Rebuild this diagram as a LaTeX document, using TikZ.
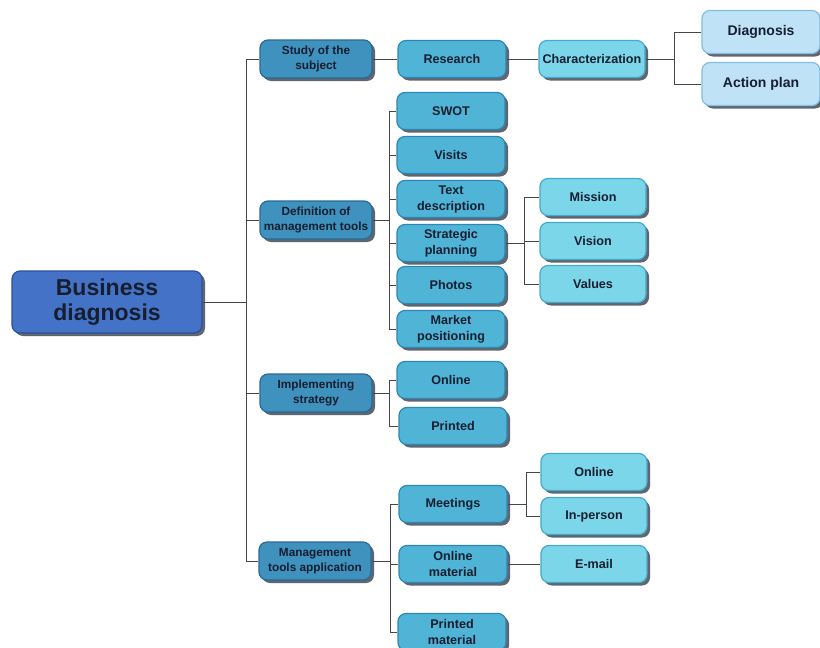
\documentclass[tikz,border=0pt]{standalone}
\usepackage{fontspec}
\setmainfont{Liberation Sans}
\usetikzlibrary{shadows}
\definecolor{c0}{RGB}{68,114,198}
\definecolor{b0}{RGB}{40,80,160}
\definecolor{c1}{RGB}{64,146,190}
\definecolor{b1}{RGB}{40,105,150}
\definecolor{c2}{RGB}{80,180,215}
\definecolor{b2}{RGB}{45,135,180}
\definecolor{c3}{RGB}{122,214,232}
\definecolor{b3}{RGB}{70,170,205}
\definecolor{c4}{RGB}{192,226,246}
\definecolor{b4}{RGB}{130,190,225}
\definecolor{txt}{RGB}{22,30,48}
\definecolor{shd}{RGB}{95,102,112}
\definecolor{edgec}{RGB}{70,70,70}
\tikzset{
  box/.style={rounded corners=8pt, draw, line width=1.2pt, align=center, font=\bfseries, text=txt, inner sep=1pt,
    drop shadow={shadow xshift=3pt, shadow yshift=-3pt, fill=shd, opacity=1}},
  lv0/.style={box, fill=c0, draw=b0, minimum width=190pt, minimum height=62pt, font=\bfseries\fontsize{23}{25}\selectfont},
  lv1/.style={box, fill=c1, draw=b1, minimum width=112pt, minimum height=38pt, font=\bfseries\fontsize{11.8}{15.5}\selectfont},
  lv2/.style={box, fill=c2, draw=b2, minimum width=108pt, minimum height=37pt, font=\bfseries\fontsize{12.6}{16}\selectfont},
  lv3/.style={box, fill=c3, draw=b3, minimum width=106pt, minimum height=37pt, font=\bfseries\fontsize{12.6}{16}\selectfont},
  lv4/.style={box, fill=c4, draw=b4, minimum width=118pt, minimum height=43pt, font=\bfseries\fontsize{14}{16}\selectfont},
  edge/.style={draw=edgec, line width=0.9pt},
}
\begin{document}
\begin{tikzpicture}[x=1pt,y=-1pt]
\useasboundingbox[fill=white] (0,0) rectangle (820,648);
% nodes
\node[lv0] (bd) at (107,302) {Business\\diagnosis};
\node[lv1] (s1) at (316,59) {Study of the\\subject};
\node[lv1] (d1) at (316,220) {Definition of\\management tools};
\node[lv1] (i1) at (316,393) {Implementing\\strategy};
\node[lv1] (m1) at (315,561) {Management\\tools application};

\node[lv2] (res) at (452,59) {Research};
\node[lv2] (swot) at (451,111) {SWOT};
\node[lv2] (vis) at (451,155) {Visits};
\node[lv2] (txd) at (451,199) {Text\\description};
\node[lv2] (stp) at (451,243) {Strategic\\planning};
\node[lv2] (pho) at (451,285) {Photos};
\node[lv2] (mkt) at (451,329) {Market\\positioning};
\node[lv2] (onl) at (451,380) {Online};
\node[lv2] (prt) at (453,426) {Printed};
\node[lv2] (mee) at (453,504) {Meetings};
\node[lv2] (onm) at (453,564) {Online\\material};
\node[lv2] (prm) at (452,632) {Printed\\material};

\node[lv3] (cha) at (592,59) {Characterization};
\node[lv3] (mis) at (593,197) {Mission};
\node[lv3] (vsn) at (593,241) {Vision};
\node[lv3] (val) at (593,284) {Values};
\node[lv3] (on2) at (594,472) {Online};
\node[lv3] (inp) at (594,516) {In-person};
\node[lv3] (eml) at (594,564) {E-mail};

\node[lv4] (dia) at (761,32) {Diagnosis};
\node[lv4] (act) at (761,84) {Action plan};

% bus coordinates
\coordinate (t0) at (246,302);
\coordinate (t1) at (389,220);
\coordinate (t2) at (389,393);
\coordinate (t3) at (390,561);
\coordinate (t4) at (524,243);
\coordinate (t5) at (526,504);
\coordinate (t6) at (674,59);

% connectors
\draw[edge] (bd.east) -- (t0);
\foreach \n in {s1,d1,i1,m1} \draw[edge] (t0) |- (\n.west);
\draw[edge] (d1.east) -- (t1);
\foreach \n in {swot,vis,txd,stp,pho,mkt} \draw[edge] (t1) |- (\n.west);
\draw[edge] (i1.east) -- (t2);
\foreach \n in {onl,prt} \draw[edge] (t2) |- (\n.west);
\draw[edge] (m1.east) -- (t3);
\foreach \n in {mee,onm,prm} \draw[edge] (t3) |- (\n.west);
\draw[edge] (stp.east) -- (t4);
\foreach \n in {mis,vsn,val} \draw[edge] (t4) |- (\n.west);
\draw[edge] (mee.east) -- (t5);
\foreach \n in {on2,inp} \draw[edge] (t5) |- (\n.west);
\draw[edge] (res.east) -- (cha.west);
\draw[edge] (s1.east) -- (res.west);
\draw[edge] (onm.east) -- (eml.west);
\draw[edge] (cha.east) -- (t6);
\foreach \n in {dia,act} \draw[edge] (t6) |- (\n.west);
\end{tikzpicture}
\end{document}
